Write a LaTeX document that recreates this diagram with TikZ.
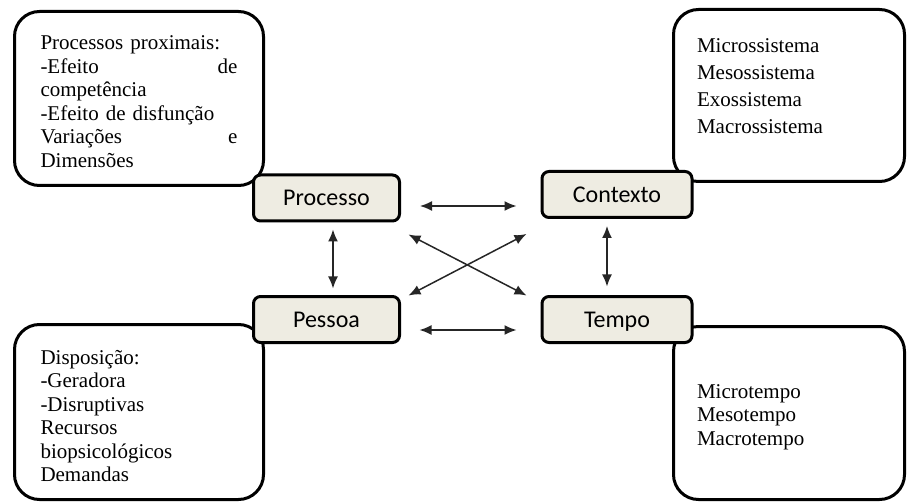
\documentclass[tikz,border=0pt]{standalone}
\usepackage{fontspec}
\setmainfont{Liberation Serif}
\newfontfamily\keyfont{Carlito}
\usetikzlibrary{arrows.meta, positioning}
\definecolor{keyfill}{RGB}{238,236,226}
\newcommand*{\spread}{\hspace{0pt plus 1filll}}

\begin{document}
\begin{tikzpicture}[x=1pt,y=-1pt,on grid,>={Latex[length=12pt,width=10pt]},
      bigbox/.style={draw,line width=3pt,rounded corners=25pt,fill=white,align=left,
        inner xsep=26pt,font=\fontsize{21}{23.5}\selectfont},
      keybox/.style={draw,line width=3pt,rounded corners=7pt,fill=keyfill,
        minimum width=146pt,minimum height=46pt,text height=15.5pt,text depth=0pt,
        font=\keyfont\fontsize{24}{28}\selectfont},
      link/.style={<->,line width=1.5pt,draw=black!85}]
      \useasboundingbox (0,0) rectangle (909,502);
      % the four big boxes
      \node[bigbox,minimum width=249pt,minimum height=174pt,text width=197pt] (procbox) at (139,98.5)
        {Processos proximais:\\ -Efeito\spread de\\ competência\\ -Efeito de disfunção\\ Variações\spread e\\ Dimensões\par\kern-6pt};
      \node[bigbox,minimum width=231pt,minimum height=172pt,text width=184pt,inner xsep=23.5pt,
        font=\fontsize{21}{27}\selectfont] (ctxbox) at (789,95.5)
        {Microssistema\\ Mesossistema\\ Exossistema\\ Macrossistema\par\kern19pt};
      \node[bigbox,minimum width=249pt,minimum height=175pt,text width=197pt] (pessbox) at (139,412)
        {Disposição:\\ -Geradora\\ -Disruptivas\\ Recursos\\ biopsicológicos\\ Demandas\par\kern-8pt};
      \node[bigbox,minimum width=231pt,minimum height=173pt,text width=184pt,inner xsep=23.5pt] (tempbox) at (789,413)
        {Microtempo\\ Mesotempo\\ Macrotempo\par\kern-8pt};
      % the four key boxes
      \node[keybox] (proc) at (326.5,198) {Processo};
      \node[keybox,minimum width=150pt] (ctx) [right=290.5pt of proc,yshift=3.5pt] {Contexto};
      \node[keybox] (pess) [below=121.5pt of proc] {Pessoa};
      \node[keybox,minimum width=150pt] (tempo) [right=290.5pt of pess] {Tempo};
      % links
      \draw[link,shorten <=19pt,shorten >=24pt] ([yshift=-8pt]proc.east) -- ([yshift=-8pt]proc.east -| ctx.west);
      \draw[link,shorten <=18.5pt,shorten >=24pt] ([yshift=-10.5pt]pess.east) -- ([yshift=-10.5pt]tempo.west);
      \draw[link,shorten <=7pt,shorten >=6.5pt] ([xshift=6.5pt]proc.south) -- ([xshift=6.5pt]pess.north);
      \draw[link,shorten <=7pt,shorten >=8.5pt] ([xshift=-10pt]ctx.south) -- ([xshift=-10pt]tempo.north);
      \draw[link] ([shift={(7.5,12)}]proc.south east) -- ([shift={(-14,0.5)}]tempo.north west);
      \draw[link] ([shift={(-14,15)}]ctx.south west) -- ([shift={(7.5,0.5)}]pess.north east);
    \end{tikzpicture}
\end{document}
